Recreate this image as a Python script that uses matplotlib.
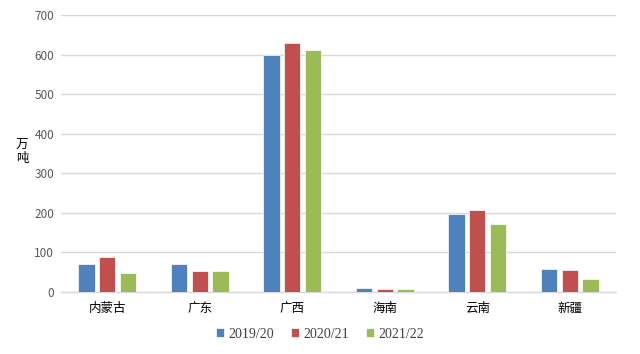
import numpy as np
import matplotlib.pyplot as plt

plt.rcParams['font.family'] = ['Noto Sans CJK SC', 'DejaVu Sans']

regions = ["内蒙古", "广东", "广西", "海南", "云南", "新疆"]
seasons = ["2019/20", "2020/21", "2021/22"]
s1920 = [71, 70, 600, 11, 196, 57]
s2021 = [88, 53, 630, 8, 207, 56]
s2122 = [47, 53, 612, 7, 172, 34]
colors = ["#4F81BD", "#C0504D", "#9BBB59"]

fig = plt.figure(figsize=(6.4, 3.54), dpi=100)
ax = fig.add_axes([61/640, 1 - 292/354, 555/640, 277/354])

x = np.arange(len(regions))
w = 0.178
off = 0.223
for i, (vals, name) in enumerate(zip([s1920, s2021, s2122], seasons)):
    ax.bar(x + (i - 1) * off, vals, w, color=colors[i], label=name,
           edgecolor="white", linewidth=0.5, zorder=3)

ax.set_xlim(-0.5, 5.5)
ax.set_ylim(0, 700)
ax.set_yticks(range(0, 701, 100))
ax.set_xticks(x)
ax.set_xticklabels(regions, fontsize=9, color="#000000")
ax.tick_params(axis="y", length=0, labelsize=8.5, labelcolor="#595959", pad=5)
ax.tick_params(axis="x", length=0, pad=7)
ax.grid(axis="y", color="#D9D9D9", linewidth=1, zorder=0)
for s in ["top", "right", "left"]:
    ax.spines[s].set_visible(False)
ax.spines["bottom"].set_color("#D9D9D9")
ax.spines["bottom"].set_linewidth(1)

fig.text(22/640, 1 - 152/354, "万\n吨", fontsize=9, ha="center", va="center",
         linespacing=1.0)

leg = fig.legend(loc="center", bbox_to_anchor=(0.5, 1 - 334/354), ncol=3,
                 frameon=False, handlelength=0.6, handleheight=0.6,
                 handletextpad=0.3, columnspacing=1.2,
                 prop={"family": ["Liberation Serif", "DejaVu Serif"], "size": 10})
for t in leg.get_texts():
    t.set_color("#404040")

fig.savefig("out.png", dpi=100)
